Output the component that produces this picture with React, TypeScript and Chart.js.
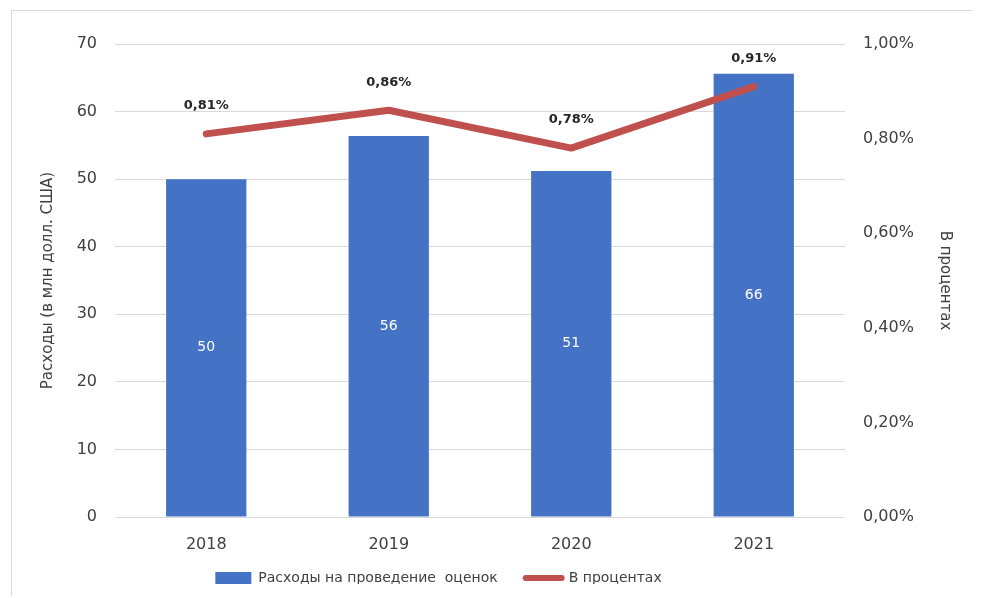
import React, { useEffect, useRef } from "react";
import { Chart, registerables } from "chart.js";

Chart.register(...registerables);

const years = ["2018", "2019", "2020", "2021"];
const spending = [50, 56.4, 51.2, 65.6];
const percents = [0.81, 0.86, 0.78, 0.91];
const barLabel = "Расходы на проведение  оценок";
const lineLabel = "В процентах";
const leftTitle = "Расходы (в млн долл. США)";
const rightTitle = "В процентах";

const FONT = "'DejaVu Sans', sans-serif";
const TEXT = "#404040";
const BAR = "#4472c4";
const LINE = "#c0504d";

const fmtPct = (v: number) => v.toFixed(2).replace(".", ",") + "%";

const valueLabels = {
  id: "valueLabels",
  afterDatasetsDraw(chart: any) {
    const ctx = chart.ctx;
    chart.data.datasets.forEach((ds: any, i: number) => {
      const meta = chart.getDatasetMeta(i);
      meta.data.forEach((el: any, j: number) => {
        const v = ds.data[j] as number;
        ctx.save();
        ctx.textAlign = "center";
        ctx.textBaseline = "middle";
        if (meta.type === "bar") {
          ctx.fillStyle = "#ffffff";
          ctx.font = `14px ${FONT}`;
          ctx.fillText(String(Math.round(v)), el.x, (el.y + el.base) / 2);
        } else {
          ctx.fillStyle = "#262626";
          ctx.font = `bold 13px ${FONT}`;
          ctx.fillText(fmtPct(v), el.x, el.y - 28);
        }
        ctx.restore();
      });
    });
  },
};

// Nudge the legend block left/up so it sits where the original places it.
const legendShift = {
  id: "legendShift",
  afterLayout(chart: any) {
    const l = chart.legend;
    if (!l) return;
    l.left -= 54;
    l.right -= 54;
    l.top -= 14;
    l.bottom -= 14;
  },
};

export default function App() {
  const ref = useRef<HTMLCanvasElement | null>(null);

  useEffect(() => {
    if (!ref.current) return;
    const chart = new Chart(ref.current, {
      type: "bar",
      data: {
        labels: years,
        datasets: [
          {
            type: "bar",
            label: barLabel,
            data: spending,
            backgroundColor: BAR,
            yAxisID: "y",
            order: 1,
            categoryPercentage: 1,
            barPercentage: 0.44,
          } as any,
          {
            type: "line",
            label: lineLabel,
            data: percents,
            borderColor: LINE,
            backgroundColor: LINE,
            borderWidth: 7,
            borderCapStyle: "round",
            borderJoinStyle: "round",
            pointRadius: 0,
            tension: 0,
            yAxisID: "y1",
            order: 0,
          } as any,
        ],
      },
      options: {
        animation: false,
        responsive: false,
        layout: { padding: { top: 33, left: 0, right: 0, bottom: 0 } },
        plugins: {
          tooltip: { enabled: false },
          legend: {
            position: "bottom",
            maxHeight: 41,
            labels: {
              color: TEXT,
              font: { family: FONT, size: 14 },
              usePointStyle: true,
              pointStyleWidth: 36,
              boxHeight: 12,
              padding: 28,
              generateLabels: () => [
                {
                  text: barLabel,
                  fillStyle: BAR,
                  strokeStyle: BAR,
                  lineWidth: 0,
                  pointStyle: "rect",
                  datasetIndex: 0,
                  fontColor: TEXT,
                } as any,
                {
                  text: lineLabel,
                  fillStyle: LINE,
                  strokeStyle: LINE,
                  lineWidth: 6,
                  lineCap: "round",
                  pointStyle: "line",
                  datasetIndex: 1,
                  fontColor: TEXT,
                } as any,
              ],
            },
          },
        },
        scales: {
          x: {
            grid: { display: false, drawTicks: false },
            border: { display: false },
            ticks: { color: TEXT, font: { family: FONT, size: 16 }, padding: 18 },
            afterFit: (s: any) => {
              s.height = 40;
            },
          },
          y: {
            position: "left",
            min: 0,
            max: 70,
            ticks: { stepSize: 10, color: TEXT, font: { family: FONT, size: 16 }, padding: 18 },
            grid: { color: "#d9d9d9", drawTicks: false, lineWidth: 1 },
            border: { display: false },
            title: {
              display: true,
              text: leftTitle,
              color: TEXT,
              font: { family: FONT, size: 15 },
              padding: { top: 27, bottom: 0 },
            },
            afterFit: (s: any) => {
              s.width = 103;
            },
          },
          y1: {
            position: "right",
            min: 0,
            max: 1,
            ticks: {
              stepSize: 0.2,
              color: TEXT,
              font: { family: FONT, size: 16 },
              padding: 18,
              callback: (v: any) => fmtPct(Number(v)),
            },
            grid: { display: false, drawTicks: false },
            border: { display: false },
            title: {
              display: true,
              text: rightTitle,
              color: TEXT,
              font: { family: FONT, size: 15 },
              padding: { top: 19, bottom: 0 },
            },
            afterFit: (s: any) => {
              s.width = 128;
            },
          },
        },
      } as any,
      plugins: [valueLabels, legendShift],
    });
    return () => chart.destroy();
  }, []);

  return (
    <div
      style={{
        position: "relative",
        left: 3,
        top: 2,
        width: 961,
        height: 587,
        borderTop: "1px solid #d9d9d9",
        borderLeft: "1px solid #d9d9d9",
        background: "#ffffff",
      }}
    >
      <canvas ref={ref} width={961} height={587} style={{ display: "block" }} />
    </div>
  );
}
